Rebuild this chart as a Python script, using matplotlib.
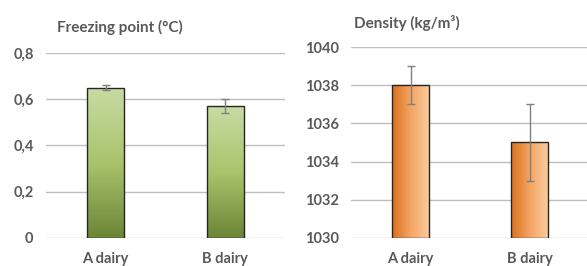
import numpy as np
import matplotlib.pyplot as plt
from matplotlib.colors import LinearSegmentedColormap

# data
dairies = ['A dairy', 'B dairy']
freezing = [0.65, 0.57]
freezing_err = [0.01, 0.03]
density = [1038, 1035]
density_err = [1, 2]

freezing_ticks = [0, 0.2, 0.4, 0.6, 0.8]
freezing_labels = ['0', '0,2', '0,4', '0,6', '0,8']
density_ticks = [1030, 1032, 1034, 1036, 1038, 1040]

plt.rcParams['font.family'] = ['Lato', 'DejaVu Sans']
grey = '#595959'

green = LinearSegmentedColormap.from_list('g', ['#6b8536', '#a9c46c', '#c8dba4'])
orange = LinearSegmentedColormap.from_list('o', ['#d9701c', '#f4a463', '#fbca9c'])


def gradient_bars(ax, x, heights, base, cmap, vertical):
    bars = ax.bar(x, [h - base for h in heights], bottom=base, width=0.31,
                  facecolor='none', edgecolor='#262626', linewidth=1.0, zorder=3)
    for b in bars:
        x0, y0 = b.get_x(), b.get_y()
        w, h = b.get_width(), b.get_height()
        if vertical:
            grad = np.linspace(0, 1, 256).reshape(-1, 1)
        else:
            grad = np.linspace(0, 1, 256).reshape(1, -1)
        im = ax.imshow(grad, cmap=cmap, extent=[x0, x0 + w, y0, y0 + h],
                       origin='lower', aspect='auto', zorder=2)
        im.set_clip_path(b)
    return bars


def style(ax):
    for s in ax.spines.values():
        s.set_visible(False)
    ax.yaxis.grid(True, color='#bfbfbf', linewidth=1.0, zorder=0)
    ax.set_axisbelow(True)
    ax.tick_params(length=0, colors=grey, labelsize=10.5)
    for lab in ax.get_xticklabels() + ax.get_yticklabels():
        lab.set_fontweight('bold')
    ax.set_xlim(-0.5, 1.5)
    ax.tick_params(axis='y', pad=9)
    ax.tick_params(axis='x', pad=10)


fig = plt.figure(figsize=(5.87, 2.66), dpi=100)

ax1 = fig.add_axes([0.0784, 0.1053, 0.4071, 0.6955])
x = np.arange(len(dairies))
gradient_bars(ax1, x, freezing, 0, green, True)
ax1.errorbar(x, freezing, yerr=freezing_err, fmt='none', ecolor='#7f7f7f',
             elinewidth=1, capsize=3, zorder=4)
ax1.set_ylim(0, 0.8)
ax1.set_yticks(freezing_ticks)
ax1.set_yticklabels(freezing_labels)
ax1.set_xticks(x)
ax1.set_xticklabels(dairies)
style(ax1)
fig.text(57 / 587, 1 - 27 / 266, 'Freezing point (°C)', fontsize=11,
         fontweight='bold', color=grey, va='center')

ax2 = fig.add_axes([0.598, 0.1053, 0.4054, 0.718])
gradient_bars(ax2, x, density, 1030, orange, False)
ax2.errorbar(x, density, yerr=density_err, fmt='none', ecolor='#7f7f7f',
             elinewidth=1, capsize=3, zorder=4)
ax2.set_ylim(1030, 1040)
ax2.set_yticks(density_ticks)
ax2.set_xticks(x)
ax2.set_xticklabels(dairies)
style(ax2)
fig.text(354 / 587, 1 - 23 / 266, 'Density (kg/m³)', fontsize=11,
         fontweight='bold', color=grey, va='center')

fig.savefig('out.png', dpi=100)
